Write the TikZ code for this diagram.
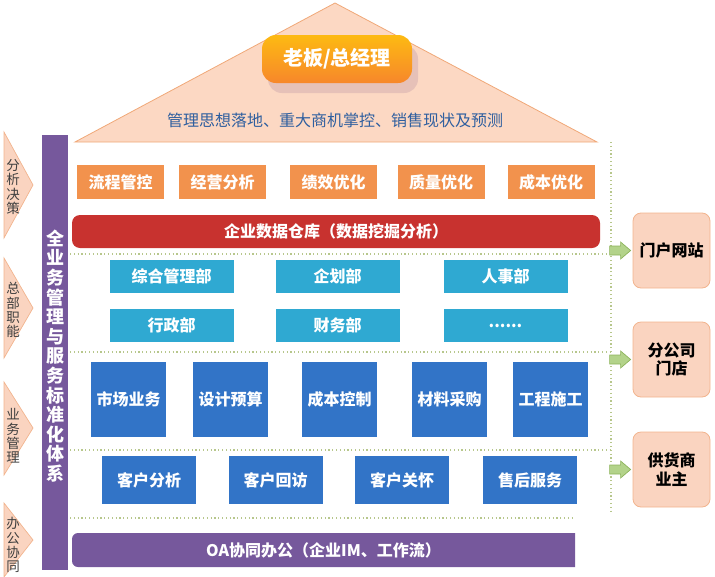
\documentclass[tikz,border=0pt]{standalone}
\usepackage{fontspec}
\setmainfont{Noto Sans CJK SC}
\usetikzlibrary{shadings}
\definecolor{roofFill}{HTML}{FCD8C3}
\definecolor{roofLine}{HTML}{F0A878}
\definecolor{bossTop}{HTML}{FDBA12}
\definecolor{bossBot}{HTML}{F7872B}
\definecolor{bossShadow}{HTML}{E6C1B8}
\definecolor{roofText}{HTML}{2F5F9F}
\definecolor{cOrange}{HTML}{F2924D}
\definecolor{cRed}{HTML}{C8322F}
\definecolor{cCyan}{HTML}{2FA9D2}
\definecolor{cBlue}{HTML}{3274C7}
\definecolor{cPurple}{HTML}{76589C}
\definecolor{sideFill}{HTML}{FAD4C0}
\definecolor{sideLine}{HTML}{F2B48E}
\definecolor{gFill}{HTML}{B3D38A}
\definecolor{gLine}{HTML}{8DB35B}
\definecolor{dotCol}{HTML}{B7C78C}
\definecolor{chevText}{HTML}{3F3F3F}
\tikzset{
  wtext/.style={text=white, font=\fontsize{16}{18}\selectfont\bfseries, inner sep=0pt},
  obox/.style={wtext, rectangle, fill=cOrange, minimum width=87pt, minimum height=34pt},
  cbox/.style={wtext, rectangle, fill=cCyan, minimum width=124pt, minimum height=33pt},
  bbox/.style={wtext, rectangle, fill=cBlue, minimum width=75pt, minimum height=75pt},
  sbox/.style={wtext, rectangle, fill=cBlue, minimum width=94pt, minimum height=48pt},
  rbox/.style={rectangle, rounded corners=8pt, fill=sideFill, draw=sideLine, line width=0.8pt,
    minimum width=77pt, minimum height=75pt, align=center, text=black,
    font=\fontsize{16}{18.5}\selectfont\bfseries, inner sep=0pt},
  chev/.style={fill=sideFill, draw=sideLine, line width=0.7pt},
  chevtxt/.style={text=chevText, font=\fontsize{13.5}{14.2}\selectfont, align=center, inner sep=0pt},
  dotline/.style={draw=dotCol, line width=1.2pt, dash pattern=on 1.2pt off 2.6pt},
  garrowstyle/.style={fill=gFill, draw=gLine, line width=0.7pt, line join=miter},
}
\begin{document}
\begin{tikzpicture}[x=1pt,y=-1pt]
\useasboundingbox (0,0) rectangle (715,576);
% roof
\path[fill=roofFill, draw=roofLine, line width=0.8pt] (335,3) -- (597,142) -- (75,142) -- cycle;
\fill[bossShadow, rounded corners=14pt] (268,45) rectangle (418,93);
\node[rectangle, rounded corners=14pt, top color=bossTop, bottom color=bossBot,
  minimum width=150pt, minimum height=48pt, inner sep=0pt,
  text=white, font=\fontsize{20}{22}\selectfont\bfseries] (boss) at (337,59) {老板/总经理};
\node[text=roofText, font=\fontsize{16}{18}\selectfont, inner sep=0pt] (rooftxt) at (335,120) {管理思想落地、重大商机掌控、销售现状及预测};
% dotted lines
\coordinate (v1) at (611,142);
\coordinate (v2) at (611,514);
\draw[dotline] (v1) -- (v2);
\coordinate (h1a) at (70,254); \coordinate (h1b) at (611,254);
\coordinate (h2a) at (70,352); \coordinate (h2b) at (611,352);
\coordinate (h3a) at (70,450); \coordinate (h3b) at (611,450);
\coordinate (h4a) at (70,518); \coordinate (h4b) at (575,518);
\draw[dotline] (h1a) -- (h1b);
\draw[dotline] (h2a) -- (h2b);
\draw[dotline] (h3a) -- (h3b);
\draw[dotline] (h4a) -- (h4b);
% left purple bar
\fill[cPurple] (42,135) rectangle (68,570);
\node[text=white, font=\fontsize{18}{19.6}\selectfont\bfseries, align=center, inner sep=0pt] (vbar) at (55,356)
  {全\\业\\务\\管\\理\\与\\服\\务\\标\\准\\化\\体\\系};
% chevrons
\path[chev] (4,132) -- (33,185) -- (4,238) -- cycle;
\node[chevtxt] (c1) at (13,187) {分\\析\\决\\策};
\path[chev] (4,258) -- (33,308) -- (4,358) -- cycle;
\node[chevtxt] (c2) at (13,310) {总\\部\\职\\能};
\path[chev] (4,382) -- (33,428) -- (4,475) -- cycle;
\node[chevtxt] (c3) at (13,436) {业\\务\\管\\理};
\path[chev] (4,503) -- (33,540) -- (4,577) -- cycle;
\node[chevtxt] (c4) at (13,545) {办\\公\\协\\同};
% orange row
\node[obox] (o1) at (120.5,182) {流程管控};
\node[obox] (o2) at (222.5,182) {经营分析};
\node[obox] (o3) at (333.5,182) {绩效优化};
\node[obox] (o4) at (441,182) {质量优化};
\node[obox] (o5) at (551,182) {成本优化};
% red bar
\node[wtext, rectangle, rounded corners=8pt, fill=cRed, minimum width=528pt, minimum height=33pt] (dw) at (336,231.5) {企业数据仓库（数据挖掘分析）};
% cyan rows
\node[cbox] (d1) at (171.5,276.5) {综合管理部};
\node[cbox] (d2) at (337.5,276.5) {企划部};
\node[cbox] (d3) at (505.5,276.5) {人事部};
\node[cbox] (d4) at (171.5,325.5) {行政部};
\node[cbox] (d5) at (337.5,325.5) {财务部};
\node[cbox] (d6) at (505.5,325.5) {......};
% blue big
\node[bbox] (b1) at (128.5,399.5) {市场业务};
\node[bbox] (b2) at (230.5,399.5) {设计预算};
\node[bbox] (b3) at (339.5,399.5) {成本控制};
\node[bbox] (b4) at (449.5,399.5) {材料采购};
\node[bbox] (b5) at (550.5,399.5) {工程施工};
% blue small
\node[sbox] (s1) at (149,480) {客户分析};
\node[sbox] (s2) at (275.5,480) {客户回访};
\node[sbox] (s3) at (402,480) {客户关怀};
\node[sbox] (s4) at (530,480) {售后服务};
% OA bar
\fill[cPurple] (575,533) -- (150,533) [rounded corners=6pt] -- (72,533) -- (72,567) -- (150,567) [sharp corners] -- (575,567) -- cycle;
\node[wtext] (oa) at (323.5,550) {OA协同办公（企业IM、工作流）};
% right boxes
\node[rbox] (g1) at (671.5,250.5) {门户网站};
\node[rbox] (g2) at (671.5,359.5) {分公司\\门店};
\node[rbox] (g3) at (671.5,469.5) {供货商\\业主};
% green arrows
\draw[garrowstyle] ([xshift=-2pt]g1.west) -- ++(-10,-8.5) -- ++(0,4) -- ++(-11,0) -- ++(0,9) -- ++(11,0) -- ++(0,4) -- cycle;
\draw[garrowstyle] ([xshift=-2pt]g2.west) -- ++(-10,-8.5) -- ++(0,4) -- ++(-11,0) -- ++(0,9) -- ++(11,0) -- ++(0,4) -- cycle;
\draw[garrowstyle] ([xshift=-2pt]g3.west) -- ++(-10,-8.5) -- ++(0,4) -- ++(-11,0) -- ++(0,9) -- ++(11,0) -- ++(0,4) -- cycle;
\end{tikzpicture}
\end{document}
